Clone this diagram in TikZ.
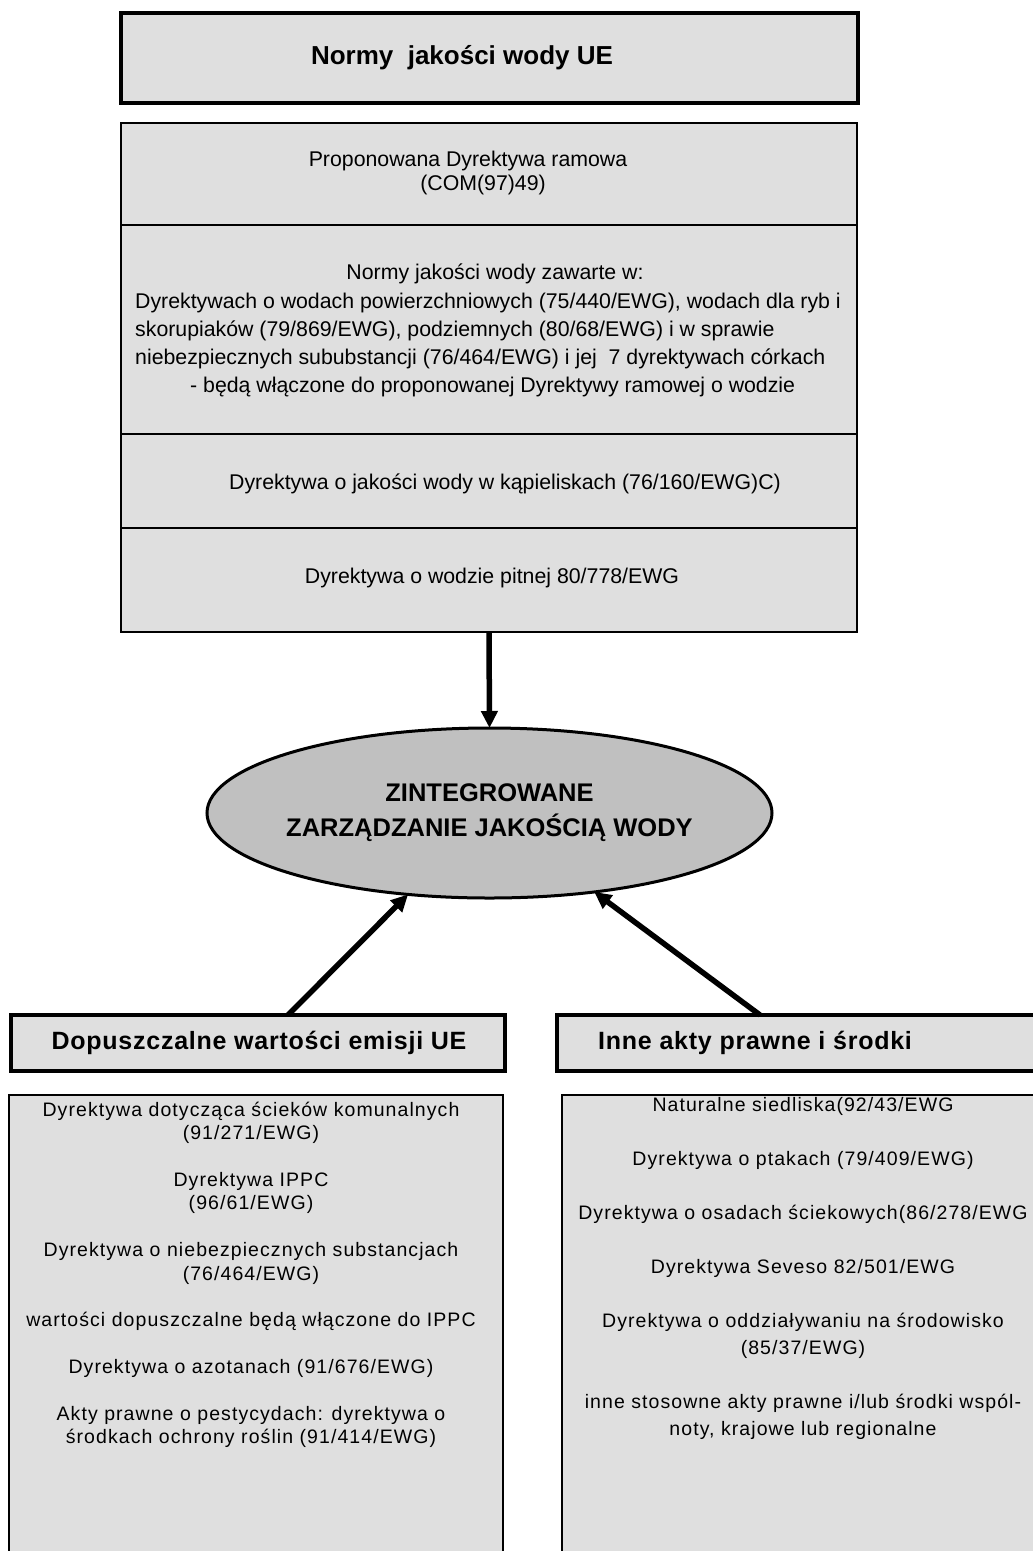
\documentclass[tikz,border=0pt]{standalone}
\usepackage{fontspec}
\setmainfont{Liberation Sans}
\usetikzlibrary{arrows.meta,calc,shapes.geometric}
\definecolor{panel}{HTML}{DFDFDF}
\definecolor{hub}{HTML}{C0C0C0}
\newcommand{\fsz}[2]{\fontsize{#1}{#2}\selectfont}

\begin{document}
\begin{tikzpicture}[x=1pt,y=-1pt,
  panelbox/.style={draw=black, fill=panel, inner sep=0pt, outer sep=0pt},
  heavybox/.style={panelbox, line width=4pt},
  lightbox/.style={panelbox, line width=2.2pt},
  toptext/.style={inner sep=0pt, font=\fsz{21.3}{28}},
  lowtext/.style={inner sep=0pt, align=center, font=\fsz{19.5}{#1}\addfontfeatures{LetterSpace=5.5}},
  headtext/.style={inner sep=0pt, font=\bfseries\fsz{25}{28}\addfontfeatures{LetterSpace=3}},
  link/.style={line width=5.5pt, -{Triangle[length=17pt,width=16pt]}},
]
\useasboundingbox (0,0) rectangle (1033,1551);
\clip (0,0) rectangle (1033,1551);
\fill[white] (0,0) rectangle (1033,1551);

% --- EU water quality standards: title and stacked panel
\node[heavybox, minimum width=737pt, minimum height=90pt] (title) at (489.5,58) {};
\node[inner sep=0pt, font=\bfseries\fsz{26}{30}] (titletxt) at (462,58) {Normy\ \ jakości wody UE};

\node[lightbox, minimum width=736pt, minimum height=102pt] (s1) at (489,174) {};
\node[lightbox, minimum width=736pt, minimum height=209pt] (s2) at (489,329.5) {};
\node[lightbox, minimum width=736pt, minimum height=94pt]  (s3) at (489,481) {};
\node[lightbox, minimum width=736pt, minimum height=104pt] (s4) at (489,580) {};

\node[toptext] (s1a) at (468,161) {Proponowana Dyrektywa ramowa};
\node[toptext] (s1b) at (483,185) {(COM(97)49)};
\node[toptext] (s2a) at (495,274) {Normy jakości wody zawarte w:};
\node[toptext, align=left, anchor=west] (s2b) at (135,345)
  {Dyrektywach o wodach powierzchniowych (75/440/EWG), wodach dla ryb i\\
   skorupiaków (79/869/EWG), podziemnych (80/68/EWG) i w sprawie\\
   niebezpiecznych sububstancji (76/464/EWG) i jej\ \ 7 dyrektywach córkach\\
   \hspace*{55pt}- będą włączone do proponowanej Dyrektywy ramowej o wodzie};
\node[toptext] (s3a) at (505,484) {Dyrektywa o jakości wody w kąpieliskach (76/160/EWG)C)};
\node[toptext] (s4a) at (492,578) {Dyrektywa o wodzie pitnej 80/778/EWG};

% --- central ellipse
\node[ellipse, draw=black, line width=3pt, fill=hub, minimum width=565pt, minimum height=170pt,
      inner xsep=-15pt, inner ysep=0pt, outer sep=0pt, align=center, font=\bfseries\fsz{25.5}{35}]
  (hubnode) at (489.5,813) {ZINTEGROWANE\\ZARZĄDZANIE JAKOŚCIĄ WODY};

% --- lower headers
\node[heavybox, minimum width=494pt, minimum height=56pt] (hdrL) at (258,1043) {};
\node[heavybox, minimum width=493pt, minimum height=56pt] (hdrR) at (803.5,1043) {};
\node[headtext] (hdrLtxt) at (259,1043) {Dopuszczalne wartości emisji UE};
\node[headtext, anchor=west] (hdrRtxt) at (598,1043) {Inne akty prawne i środki};

% --- lower content panels
\node[panelbox, line width=2.5pt, minimum width=494pt, minimum height=475pt] (boxL) at (256,1332.5) {};
\node[panelbox, line width=2.5pt, minimum width=488pt, minimum height=475pt] (boxR) at (806,1332.5) {};

\node[lowtext=23.4] (listL) at (251,1275)
  {Dyrektywa dotycząca ścieków komunalnych\\(91/271/EWG)\\[23.4pt]
   Dyrektywa IPPC\\(96/61/EWG)\\[23.4pt]
   Dyrektywa o niebezpiecznych substancjach\\(76/464/EWG)\\[23.4pt]
   wartości dopuszczalne będą włączone do IPPC\\[23.4pt]
   Dyrektywa o azotanach (91/676/EWG)\\[23.4pt]
   Akty prawne o pestycydach: dyrektywa o\\środkach ochrony roślin (91/414/EWG)};

\node[lowtext=27] (listR) at (803,1268)
  {Naturalne siedliska(92/43/EWG\\[27pt]
   Dyrektywa o ptakach (79/409/EWG)\\[27pt]
   Dyrektywa o osadach ściekowych(86/278/EWG\\[27pt]
   Dyrektywa Seveso 82/501/EWG\\[27pt]
   Dyrektywa o oddziaływaniu na środowisko\hspace*{28pt}\\(85/37/EWG)\\[27pt]
   inne stosowne akty prawne i/lub środki wspól-\\noty, krajowe lub regionalne};

% --- connectors
\draw[link] (s4.south) -- (hubnode.north);
\draw[link] ($(hdrL.north west)+(277,0)$) -- (hubnode.225);
\draw[link] ($(hdrR.north west)+(203,0)$) -- (hubnode.323.7);
\end{tikzpicture}
\end{document}
